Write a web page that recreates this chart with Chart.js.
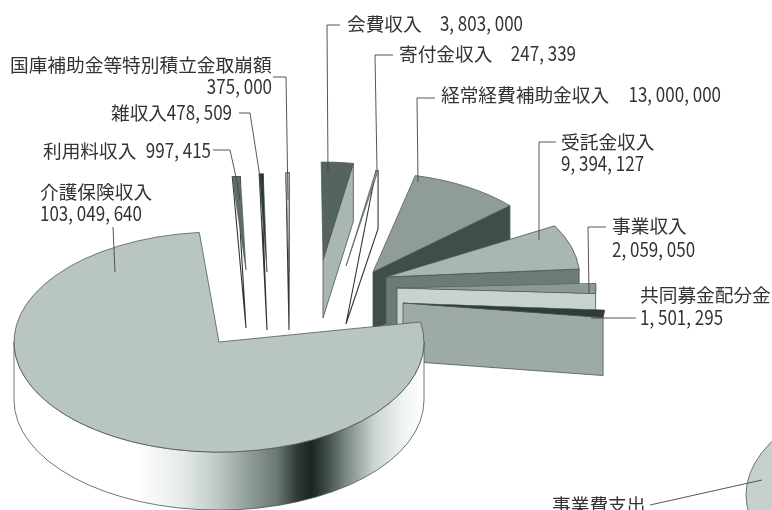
<!DOCTYPE html>
<html lang="ja">
<head>
<meta charset="utf-8">
<title>収入内訳</title>
<script src="https://cdn.jsdelivr.net/npm/chart.js@4"></script>
<style>
  html, body { margin: 0; padding: 0; background: #fff; overflow: hidden; }
  #stage { position: relative; width: 772px; height: 510px; }
  canvas { position: absolute; left: 0; top: 0; }
</style>
</head>
<body>
<div id="stage">
  <canvas id="expensePie" width="772" height="510"></canvas>
  <canvas id="incomePie" width="772" height="510"></canvas>
</div>
<script>
/* ---------- DATA ---------- */
const categories = ['介護保険収入', '利用料収入', '雑収入', '国庫補助金等特別積立金取崩額', '会費収入',
  '寄付金収入', '経常経費補助金収入', '受託金収入', '事業収入', '共同募金配分金'];
const values = [103049640, 997415, 478509, 375000, 3803000, 247339, 13000000, 9394127, 2059050, 1501295];

const expenseCategories = ['事業費支出'];
const expenseValues = [100];

/* ---------- SLICE STYLE ---------- */
const faceColors = ['#b9c5c1', '#5f6d69', '#2a3633', '#dfe6e3', '#55645f', '#8c9a96', '#8f9c98', '#a9b6b2', '#8b9995', '#2f3d39'];
const wallColors = ['#ffffff', '#ffffff', '#ffffff', '#ffffff', '#a9b6b2', '#ffffff', '#3f4e49', '#6d7b77', '#c8d2cf', '#9eaaa7'];

// how far each slice is pulled out of the pie, and its extra turn and size in the tilted view
const explodeX = [-167, -140, -119, -97, -63, -40, -13, 0, 11, 17];
const explodeY = [87, 15, 17, 17, 5, 11, 17, 22, 33, 48];
const sliceTurn = [0, 1, 0.4, 0.6, 0, 0, 3, 15.6, 17.5, 18.2];
const sliceScale = [1, 0.85, 0.89, 0.9, 0.89, 0.88, 0.9, 0.945, 0.97, 0.985];

const PIE_RADIUS = 205;
const TILT = 0.537;
const WALL_DEPTH = 58;

/* ---------- LABELS ---------- */
const money = v => v.toLocaleString('en-US').replace(/,/g, ', ');

// [slice, 'name' or 'value', x, baseline, align]
const labelRuns = [
  [0, 'name', 40, 199, 'left'], [0, 'value', 40, 221, 'left'],
  [1, 'name', 43, 158, 'left'], [1, 'value', 211, 158, 'right'],
  [2, 'name', 111, 120, 'left'], [2, 'value', 232, 120, 'right'],
  [3, 'name', 10, 72, 'left'], [3, 'value', 272, 94, 'right'],
  [4, 'name', 347, 31, 'left'], [4, 'value', 523, 31, 'right'],
  [5, 'name', 399, 61, 'left'], [5, 'value', 576, 61, 'right'],
  [6, 'name', 441, 102, 'left'], [6, 'value', 721, 102, 'right'],
  [7, 'name', 561, 149, 'left'], [7, 'value', 561, 171, 'left'],
  [8, 'name', 612, 233, 'left'], [8, 'value', 612, 257, 'left'],
  [9, 'name', 640, 302, 'left'], [9, 'value', 640, 325, 'left']
];

const leaders = [
  [[113, 227], [115, 272]],
  [[213, 150], [230, 150], [236, 177], [240, 200]],
  [[239, 113], [250, 113], [262, 190]],
  [[273, 77], [286, 77], [288, 200]],
  [[340, 25], [327, 25], [328, 173]],
  [[393, 55], [375, 55], [377, 170]],
  [[435, 98], [417, 98], [418, 182]],
  [[556, 142], [539, 142], [539, 240]],
  [[606, 227], [588, 227], [589, 293]],
  [[636, 318], [591, 318]],
  [[650, 505], [762, 480]]
];

/* ---------- TILTED PIE DRAWING ---------- */
function sideGradient(ctx) {
  const g = ctx.createLinearGradient(14, 0, 424, 0);
  const stops = [[0, '#ffffff'], [0.3, '#ffffff'], [0.41, '#e5ebe9'], [0.5, '#bcc7c3'], [0.57, '#929e9a'],
    [0.64, '#6d7975'], [0.69, '#2e3a36'], [0.725, '#1a2522'], [0.76, '#3d4946'], [0.81, '#7c8885'], [0.88, '#cbd5d2'], [0.95, '#f0f4f3'], [1, '#ffffff']];
  stops.forEach(s => g.addColorStop(s[0], s[1]));
  return g;
}

function drawWall(ctx, el, i, ox, oy, depth) {
  const R = el.outerRadius * sliceScale[i];
  const turn = sliceTurn[i] * Math.PI / 180;
  const rim = a => [ox + R * Math.cos(a + turn), oy + R * Math.sin(a + turn) * TILT];
  const a = rim(el.startAngle);
  const b = rim(el.endAngle);
  const span = (el.endAngle - el.startAngle) * 180 / Math.PI;

  ctx.beginPath();
  if (span > 180) {
    // the big slice shows its rounded side
    ctx.ellipse(ox, oy, R, R * TILT, 0, 0, Math.PI);
    ctx.ellipse(ox, oy + depth, R, R * TILT, 0, Math.PI, 0, true);
    ctx.closePath();
    ctx.fillStyle = sideGradient(ctx);
  } else {
    if (span < 3) {
      // very thin slices: outline runs from the far corner to the foot
      ctx.moveTo(a[0], a[1]);
    } else {
      ctx.moveTo(ox, oy);
    }
    ctx.lineTo(b[0], b[1]);
    ctx.lineTo(b[0], b[1] + depth);
    ctx.lineTo(ox, oy + depth);
    ctx.closePath();
    ctx.fillStyle = wallColors[i];
  }
  ctx.fill();
  ctx.strokeStyle = span < 3 ? '#2f3533' : '#4a5552';
  ctx.lineWidth = span < 3 ? 1.1 : 0.8;
  ctx.stroke();
}

const tiltedPie = {
  id: 'tiltedPie',
  beforeDatasetDraw(chart) {
    const ctx = chart.ctx;
    const o = chart.options.plugins.tiltedPie;
    const arcs = chart.getDatasetMeta(0).data;
    // far slices first, the big one on top
    const order = arcs.map((_, i) => i).slice(1).concat(0);
    order.forEach(i => {
      const el = arcs[i];
      const ox = el.x + o.shiftX[i];
      const oy = el.y + o.shiftY[i];
      if (o.depth > 0) drawWall(ctx, el, i, ox, oy, o.depth);
      ctx.save();
      ctx.translate(ox, oy);
      ctx.scale(sliceScale[i], sliceScale[i] * TILT);
      ctx.rotate(sliceTurn[i] * Math.PI / 180);
      ctx.translate(-el.x, -el.y);
      el.draw(ctx);
      ctx.restore();
    });
    return false;
  }
};

const annotations = {
  id: 'annotations',
  afterDraw(chart) {
    const ctx = chart.ctx;
    ctx.save();
    ctx.strokeStyle = '#444';
    ctx.lineWidth = 0.9;
    leaders.forEach(line => {
      ctx.beginPath();
      line.forEach((p, k) => k ? ctx.lineTo(p[0], p[1]) : ctx.moveTo(p[0], p[1]));
      ctx.stroke();
    });
    ctx.fillStyle = '#333';
    ctx.textBaseline = 'alphabetic';
    labelRuns.forEach(r => {
      const isName = r[1] === 'name';
      ctx.save();
      ctx.translate(r[2], r[3]);
      // the figures are set in a condensed cut
      if (!isName) ctx.scale(0.85, 1);
      ctx.font = isName ? '18.7px "Noto Sans CJK JP"' : '20px "Noto Sans CJK JP"';
      ctx.textAlign = r[4];
      ctx.fillText(isName ? categories[r[0]] : money(values[r[0]]), 0, 0);
      ctx.restore();
    });
    ctx.font = '18.7px "Noto Sans CJK JP"';
    ctx.textAlign = 'left';
    ctx.fillText(expenseCategories[0], 552, 512);
    ctx.restore();
  }
};

/* ---------- CHARTS ---------- */
new Chart(document.getElementById('expensePie'), {
  type: 'pie',
  data: {
    labels: expenseCategories,
    datasets: [{ data: expenseValues, backgroundColor: '#c6d1ce', borderColor: '#4a5552', borderWidth: 1 }]
  },
  options: {
    responsive: false,
    animation: false,
    radius: PIE_RADIUS,
    plugins: {
      legend: { display: false },
      tooltip: { enabled: false },
      tiltedPie: { shiftX: [565], shiftY: [240], depth: 0 }
    }
  },
  plugins: [tiltedPie]
});

new Chart(document.getElementById('incomePie'), {
  type: 'pie',
  data: {
    labels: categories,
    datasets: [{ data: values, backgroundColor: faceColors, borderColor: '#4a5552', borderWidth: 1 }]
  },
  options: {
    responsive: false,
    animation: false,
    radius: PIE_RADIUS,
    rotation: 79.5,
    plugins: {
      legend: { display: false },
      tooltip: { enabled: false },
      tiltedPie: { shiftX: explodeX, shiftY: explodeY, depth: WALL_DEPTH }
    }
  },
  plugins: [tiltedPie, annotations]
});
</script>
</body>
</html>
